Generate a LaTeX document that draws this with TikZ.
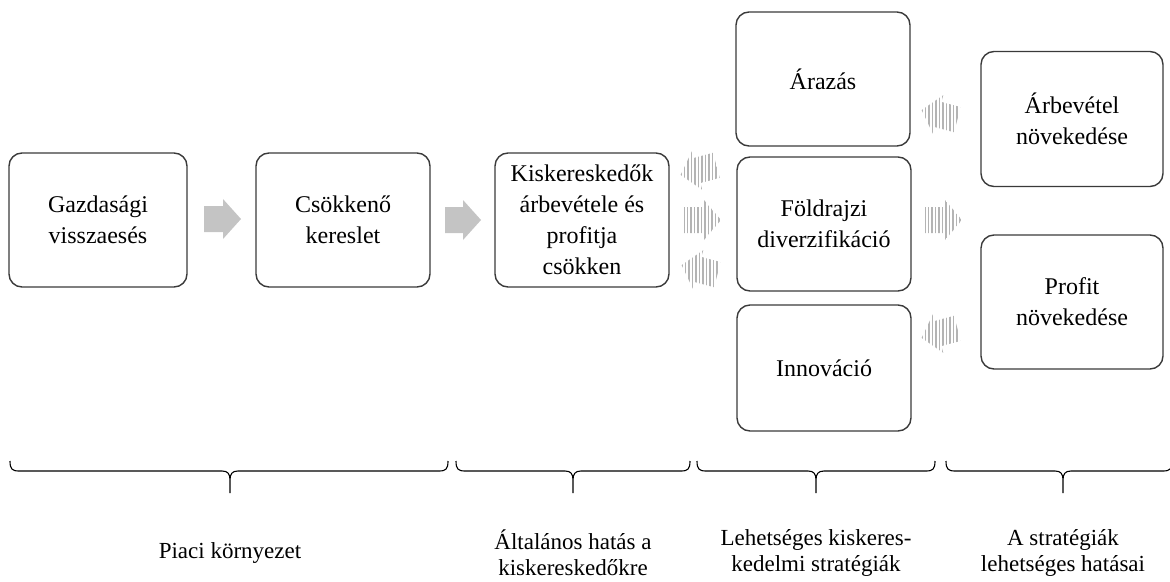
\documentclass[tikz,border=0pt]{standalone}
\usepackage{fontspec}
\setmainfont{Liberation Serif}
\definecolor{boxline}{HTML}{3A3A3A}
\definecolor{arrowgray}{HTML}{C4C4C4}
\definecolor{stripegray}{HTML}{B4B4B4}
\tikzset{
  box/.style={draw=boxline, line width=1.4pt, rounded corners=13pt, align=center,
    font=\fontsize{24}{31}\selectfont, inner sep=2pt},
  blockarrow/.style={fill=arrowgray, draw=none},
  stripe/.style={draw=stripegray, line width=1.9pt},
  bracepath/.style={draw=black, line width=1.1pt},
  label/.style={align=center, font=\fontsize{23}{26}\selectfont}
}
\newcommand{\stripedarrow}[3]{%
  \begin{scope}
    \clip[shift={(#1,#2)},rotate=#3] (-18,-13) -- (2,-13) -- (2,-20) -- (19,0) -- (2,20) -- (2,13) -- (-18,13) -- cycle;
    \foreach \sx in {-25,-21.5,...,26} \draw[stripe] (#1+\sx,#2-28) -- (#1+\sx,#2+28);
  \end{scope}}
\newcommand{\mybrace}[3]{%
  \draw[bracepath] (#1,461) .. controls (#1,469) and (#1+2,471) .. (#1+9,471)
    -- (#3-8,471) .. controls (#3-2,471) and (#3,474) .. (#3,480) -- (#3,493)
    (#3,480) .. controls (#3,474) and (#3+2,471) .. (#3+8,471)
    -- (#2-9,471) .. controls (#2-2,471) and (#2,469) .. (#2,461);}
\begin{document}
\begin{tikzpicture}[x=1pt,y=-1pt]
\useasboundingbox (0,0) rectangle (1170,581);

% main flow boxes
\node[box, minimum width=178pt, minimum height=134pt] (b1) at (98,220) {Gazdasági\\visszaesés};
\node[box, minimum width=174pt, minimum height=134pt] (b2) at (343,220) {Csökkenő\\kereslet};
\node[box, minimum width=174pt, minimum height=134pt] (b3) at (582,220) {Kiskereskedők\\árbevétele és\\profitja\\csökken};

% strategy boxes
\node[box, minimum width=174pt, minimum height=134pt] (s1) at (823,79) {Árazás};
\node[box, minimum width=174pt, minimum height=134pt] (s2) at (824,224) {Földrajzi\\diverzifikáció};
\node[box, minimum width=174pt, minimum height=126pt] (s3) at (824,368) {Innováció};

% effect boxes
\node[box, minimum width=182pt, minimum height=135pt] (e1) at (1072,119) {Árbevétel\\növekedése};
\node[box, minimum width=182pt, minimum height=134pt] (e2) at (1072,302) {Profit\\növekedése};

% solid block arrows
\fill[blockarrow] (204,206) -- (223,206) -- (223,199) -- (241,219) -- (223,239) -- (223,232) -- (204,232) -- cycle;
\fill[blockarrow] (445,207) -- (463,207) -- (463,200) -- (481,220) -- (463,240) -- (463,233) -- (445,233) -- cycle;

% striped arrows
\stripedarrow{699}{170}{195}
\stripedarrow{702}{220}{0}
\stripedarrow{700}{270}{165}
\stripedarrow{940}{115}{165}
\stripedarrow{943}{220}{0}
\stripedarrow{940}{333}{195}

% braces
\mybrace{10}{448}{230}
\mybrace{456}{690}{573}
\mybrace{697}{935}{816}
\mybrace{946}{1172}{1063}

% labels
\node[label] (l1) at (230,553) {Piaci környezet};
\node[label] (l2) at (573,553) {Általános hatás a\\kiskereskedőkre};
\node[label] (l3) at (816,553) {Lehetséges kiskeres-\\kedelmi stratégiák};
\node[label] (l4) at (1063,553) {A stratégiák\\lehetséges hatásai};
\end{tikzpicture}
\end{document}
